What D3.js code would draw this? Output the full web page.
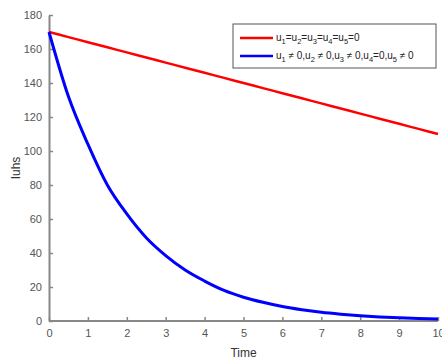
<!DOCTYPE html>
<html>
<head>
<meta charset="utf-8">
<script src="https://cdn.jsdelivr.net/npm/d3@7"></script>
<style>
  body { margin: 0; background: #fff; }
  text { font-family: "Liberation Sans", Arial, sans-serif; }
</style>
</head>
<body>
<div id="chart"></div>
<script>
const width = 442;
const height = 361;
const MARGIN = { top: 15, right: 4, bottom: 40, left: 49 };

// values
const time = [0, 0.5, 1, 1.5, 2, 2.5, 3, 3.5, 4, 4.5, 5, 5.5, 6, 6.5, 7, 7.5, 8, 8.5, 9, 9.5, 10];
const noControl = [170, 167, 164, 161, 158, 155, 152, 149, 146, 143, 140, 137, 134, 131, 128, 125, 122, 119, 116, 113, 110];
const withControl = [170, 132, 104, 80, 63, 49, 38.5, 30, 23.5, 18, 14, 11, 8.5, 6.6, 5.1, 4, 3.1, 2.4, 1.9, 1.5, 1.2];
const xTicks = [0, 1, 2, 3, 4, 5, 6, 7, 8, 9, 10];
const yTicks = [0, 20, 40, 60, 80, 100, 120, 140, 160, 180];

const innerW = width - MARGIN.left - MARGIN.right;
const innerH = height - MARGIN.top - MARGIN.bottom;

const svg = d3.select('#chart').append('svg')
  .attr('width', width)
  .attr('height', height);

const g = svg.append('g')
  .attr('transform', 'translate(' + MARGIN.left + ',' + MARGIN.top + ')');

const x = d3.scaleLinear().domain([0, 10]).range([0, 389]);
const y = d3.scaleLinear().domain([0, 180]).range([innerH, 0]);

// axes, ticks point inwards like matlab
const axisColor = '#555';
const xAxis = g.append('g')
  .attr('transform', 'translate(0,' + innerH + ')')
  .call(d3.axisBottom(x).tickValues(xTicks).tickSize(-4).tickPadding(8).tickSizeOuter(0));
const yAxis = g.append('g')
  .call(d3.axisLeft(y).tickValues(yTicks).tickSize(-4).tickPadding(7).tickSizeOuter(0));

[xAxis, yAxis].forEach(a => {
  a.select('.domain').attr('stroke', '#888').attr('stroke-width', 2);
  a.selectAll('.tick line').attr('stroke', '#888').attr('stroke-width', 1.5);
  a.selectAll('.tick text').attr('fill', axisColor).style('font-size', '11px');
});
xAxis.select('.domain').attr('d', 'M0,0H' + innerW);

// labels
svg.append('text')
  .attr('x', MARGIN.left + x(5))
  .attr('y', 357)
  .attr('text-anchor', 'middle')
  .attr('fill', '#333')
  .style('font-size', '12px')
  .text('Time');

svg.append('text')
  .attr('transform', 'translate(20,' + (MARGIN.top + y(90)) + ') rotate(-90)')
  .attr('text-anchor', 'middle')
  .attr('fill', '#333')
  .style('font-size', '12px')
  .text('Iuhs');

// curves
const line = d3.line()
  .x((d, i) => x(time[i]))
  .y(d => y(d))
  .curve(d3.curveMonotoneX);

g.append('path')
  .datum(noControl)
  .attr('fill', 'none')
  .attr('stroke', '#ff0000')
  .attr('stroke-width', 2.5)
  .attr('d', line);

g.append('path')
  .datum(withControl)
  .attr('fill', 'none')
  .attr('stroke', '#0000ff')
  .attr('stroke-width', 3)
  .attr('d', line);

// legend
const lg = svg.append('g').attr('transform', 'translate(233,24)');
lg.append('rect')
  .attr('width', 203)
  .attr('height', 44)
  .attr('fill', '#fff')
  .attr('stroke', '#555')
  .attr('stroke-width', 1);

const entries = [
  { color: '#ff0000', parts: [['u', '1'], ['=u', '2'], ['=u', '3'], ['=u', '4'], ['=u', '5'], ['=0', null]] },
  { color: '#0000ff', parts: [['u', '1'], [' \u2260 0,u', '2'], [' \u2260 0,u', '3'], [' \u2260 0,u', '4'], ['=0,u', '5'], [' \u2260 0', null]] }
];

entries.forEach((e, i) => {
  const cy = 14 + i * 18;
  lg.append('line')
    .attr('x1', 7).attr('x2', 40)
    .attr('y1', cy).attr('y2', cy)
    .attr('stroke', e.color)
    .attr('stroke-width', 2.5);
  const t = lg.append('text')
    .attr('x', 43)
    .attr('y', cy + 3)
    .attr('fill', '#222')
    .attr('xml:space', 'preserve')
    .style('white-space', 'pre')
    .style('font-size', '10px');
  let shifted = false;
  e.parts.forEach(p => {
    t.append('tspan').attr('dy', shifted ? -3 : 0).text(p[0]);
    shifted = false;
    if (p[1]) {
      t.append('tspan').attr('dy', 3).style('font-size', '7.5px').text(p[1]);
      shifted = true;
    }
  });
});
</script>
</body>
</html>
